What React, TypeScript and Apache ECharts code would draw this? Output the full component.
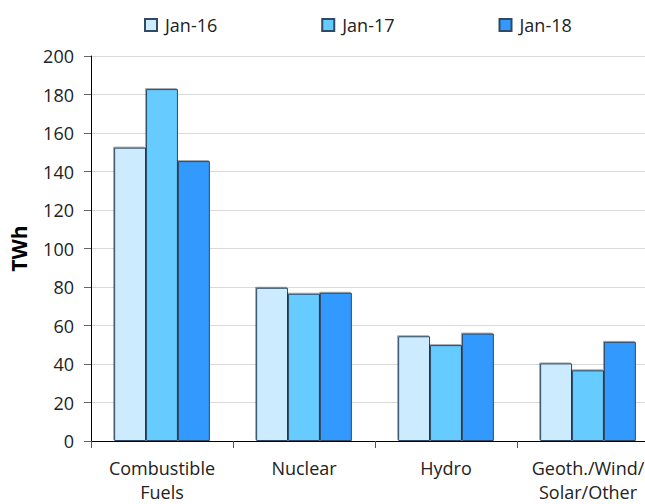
import React, { useEffect, useRef } from "react";
import * as echarts from "echarts";

const categories = ["Combustible\nFuels", "Nuclear", "Hydro", "Geoth./Wind/\nSolar/Other"];
const seriesNames = ["Jan-16", "Jan-17", "Jan-18"];
const jan16 = [152.4, 79.6, 54.4, 40.3];
const jan17 = [182.8, 76.5, 49.8, 36.7];
const jan18 = [145.4, 77.0, 55.8, 51.5];
const colors = ["#CCEBFF", "#66CCFF", "#3399FF"];

const FONT = "'Open Sans', sans-serif";

export default function App() {
  const ref = useRef<HTMLDivElement>(null);
  useEffect(() => {
    if (!ref.current) return;
    const chart = echarts.init(ref.current, undefined, { renderer: "svg" });
    const values = [jan16, jan17, jan18];
    chart.setOption({
      animation: false,
      textStyle: { fontFamily: FONT },
      legend: {
        top: 11,
        left: 139,
        itemWidth: 12,
        itemHeight: 12,
        itemGap: 104,
        icon: "rect",
        textStyle: { fontSize: 18, color: "#222", fontFamily: FONT, padding: [0, 0, 0, 3] },
        data: seriesNames,
      },
      grid: { left: 89, right: 0, top: 56, bottom: 61, containLabel: false },
      xAxis: {
        type: "category",
        data: categories,
        axisLine: { lineStyle: { color: "#000", width: 1 } },
        axisTick: { show: true, interval: 0, length: 7, lineStyle: { color: "#555" } },
        axisLabel: { interval: 0, fontSize: 18, color: "#222", margin: 15, lineHeight: 24, fontFamily: FONT },
      },
      yAxis: {
        type: "value",
        min: 0,
        max: 200,
        interval: 20,
        name: "TWh",
        nameLocation: "middle",
        nameGap: 62,
        nameTextStyle: { fontSize: 21, fontWeight: "bold", color: "#000", fontFamily: FONT },
        axisLine: { show: true, lineStyle: { color: "#000", width: 1 } },
        axisTick: { show: true, length: 7, lineStyle: { color: "#666" } },
        axisLabel: { fontSize: 18, color: "#222", margin: 17, fontFamily: FONT },
        splitLine: { lineStyle: { color: "#D9D9D9", width: 1 } },
      },
      series: seriesNames.map((name, i) => ({
        name,
        type: "bar",
        data: values[i],
        barGap: "0%",
        barCategoryGap: "32.6%",
        itemStyle: {
          color: colors[i],
          borderColor: "#2E4A66",
          borderWidth: 1,
          shadowColor: "rgba(0,0,0,0.35)",
          shadowOffsetX: -1,
          shadowOffsetY: -1,
          shadowBlur: 0,
        },
      })),
    });
    return () => chart.dispose();
  }, []);
  return (
    <div style={{ position: "fixed", left: 0, top: 0, width: 645, height: 504, overflow: "hidden", background: "#fff" }}>
      <div ref={ref} style={{ width: 659, height: 504 }} />
    </div>
  );
}
